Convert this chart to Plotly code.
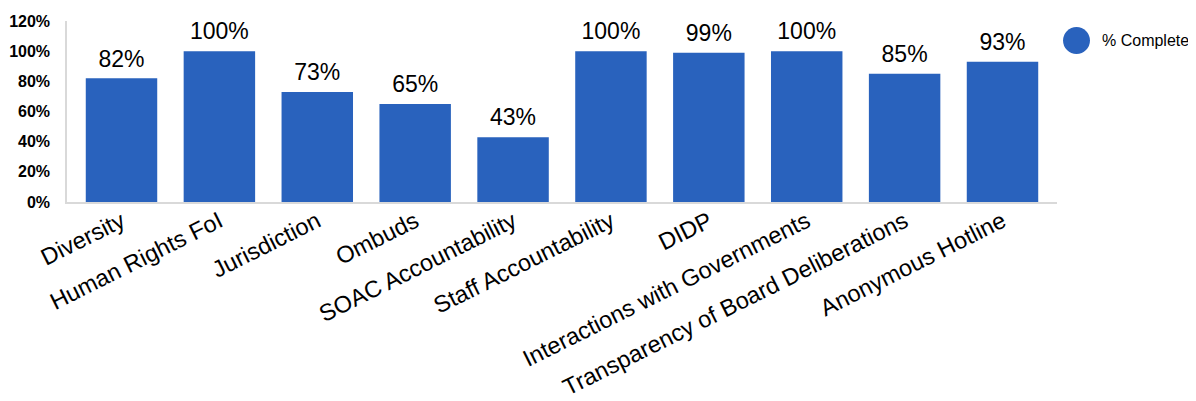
import plotly.graph_objects as go

categories = ["Diversity", "Human Rights FoI", "Jurisdiction", "Ombuds", "SOAC Accountability",
              "Staff Accountability", "DIDP", "Interactions with Governments",
              "Transparency of Board Deliberations", "Anonymous Hotline"]
pct_complete = [82, 100, 73, 65, 43, 100, 99, 100, 85, 93]
y_ticks = [0, 20, 40, 60, 80, 100, 120]
y_tick_labels = ["0%", "20%", "40%", "60%", "80%", "100%", "120%"]
series_name = "% Complete"

BLUE = "#2962BD"
FONT = "Liberation Sans, Arial, sans-serif"

fig = go.Figure()
fig.add_trace(go.Bar(
    x=categories, y=pct_complete, name=series_name,
    marker=dict(color=BLUE, line=dict(width=0)),
    showlegend=False, hoverinfo="x+y",
))
fig.add_trace(go.Scatter(
    x=categories, y=pct_complete, mode="markers+text",
    marker=dict(size=8, opacity=0),
    text=[f"{v}%" for v in pct_complete], textposition="top center",
    textfont=dict(size=23, color="black", family=FONT),
    cliponaxis=False, showlegend=False, hoverinfo="skip",
))

fig.update_layout(
    width=1188, height=393,
    margin=dict(l=59, r=139, t=13, b=199, autoexpand=False),
    paper_bgcolor="white", plot_bgcolor="white",
    bargap=0.27,
    font=dict(family=FONT, color="black"),
    xaxis=dict(tickangle=-26.5, tickfont=dict(size=23.5, color="black"),
               showline=True, linecolor="#d9d9d9", linewidth=1.5,
               ticks="", showgrid=False, automargin=False, ticklabelstandoff=-5),
    yaxis=dict(range=[0, 120], tickmode="array", tickvals=y_ticks, ticktext=y_tick_labels,
               tickfont=dict(size=16, color="black", family=FONT, weight="bold"),
               showline=True, linecolor="#d9d9d9", linewidth=1.5,
               showgrid=False, zeroline=False, ticks="", ticklabelstandoff=12,
               automargin=False),
    shapes=[dict(type="circle", xref="paper", yref="paper",
                 x0=1.0061, x1=1.0333, y0=0.8177, y1=0.967,
                 fillcolor=BLUE, line=dict(width=0))],
    annotations=[dict(text=series_name, xref="paper", yref="paper",
                      x=1.0434, y=0.892, xanchor="left", yanchor="middle",
                      showarrow=False, font=dict(size=16, color="black"))],
)

fig.write_html("out.html")
